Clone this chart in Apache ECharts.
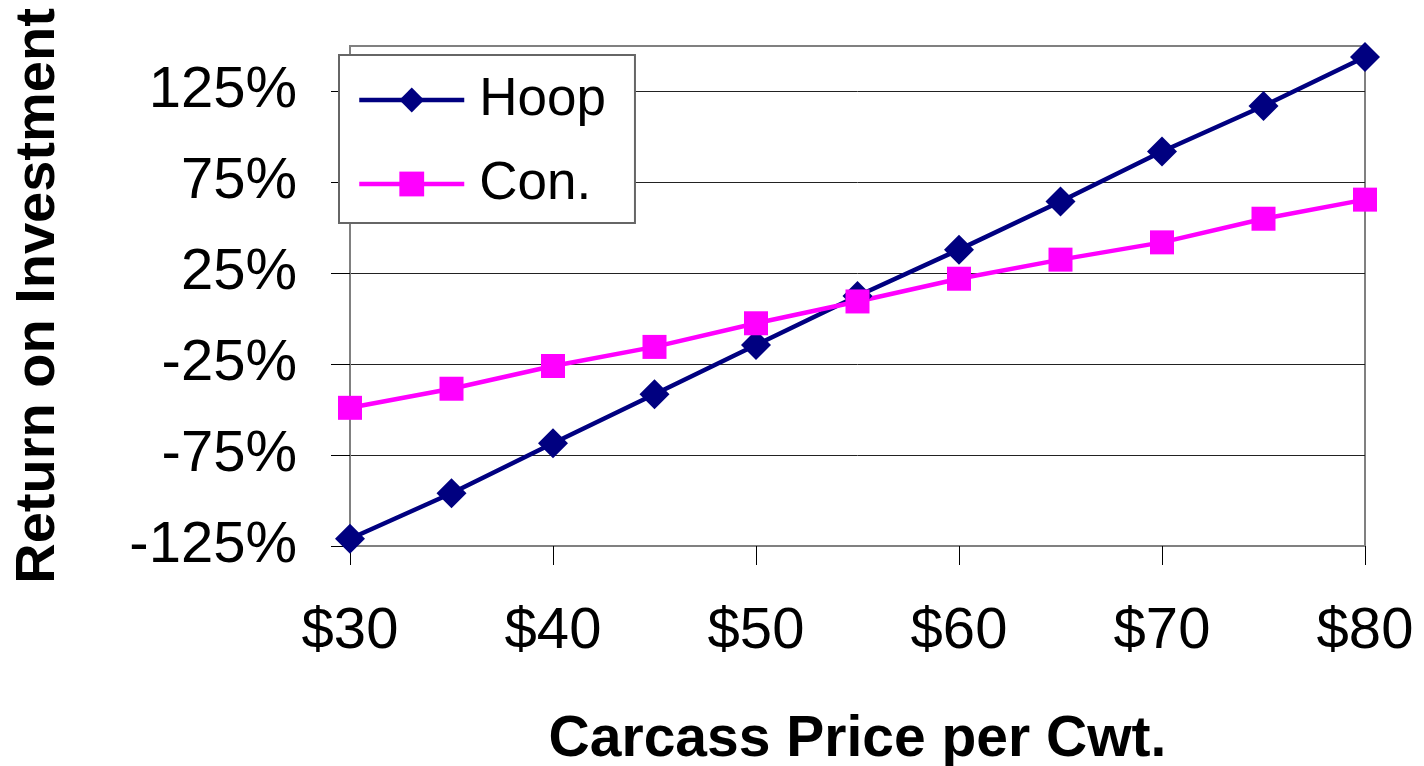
<!DOCTYPE html>
<html>
<head>
<meta charset="utf-8">
<script src="https://cdn.jsdelivr.net/npm/echarts@6/dist/echarts.min.js"></script>
<style>
html,body{margin:0;padding:0;background:#fff;}
#chart{width:1424px;height:766px;}
</style>
</head>
<body>
<div id="chart"></div>
<script>
var categories = ['$30','$35','$40','$45','$50','$55','$60','$65','$70','$75','$80'];
var hoop = [-121, -96, -68.5, -41.5, -14.5, 12.5, 38, 64.5, 92, 117, 144];
var con = [-49, -38.5, -26, -15.5, -2.5, 9.5, 22, 32.5, 42, 55, 65.5];
var yTicks = [-125, -75, -25, 25, 75, 125];

var FONT = '"Liberation Sans", Arial, sans-serif';
var chart = echarts.init(document.getElementById('chart'));
chart.setOption({
  animation: false,
  backgroundColor: '#fff',
  grid: {
    left: 350, right: 59, top: 46, bottom: 220,
    outerBoundsMode: 'none',
    containLabel: false,
    show: true, borderColor: '#808080', borderWidth: 2, backgroundColor: 'transparent'
  },
  legend: {
    orient: 'vertical',
    left: 339, top: 55,
    padding: [16, 29, 10, 18],
    backgroundColor: '#fff',
    borderColor: '#666',
    borderWidth: 2,
    borderRadius: 0,
    itemWidth: 105,
    itemHeight: 31,
    itemGap: 26,
    lineStyle: { width: 4.5 },
    textStyle: { fontFamily: FONT, fontSize: 53, lineHeight: 58, color: '#000', padding: [0, 0, 0, 10] },
    data: ['Hoop', 'Con.']
  },
  xAxis: {
    type: 'category',
    data: categories,
    boundaryGap: false,
    axisLine: { show: true, onZero: false, lineStyle: { color: '#808080', width: 2 } },
    axisTick: { show: true, interval: 1, length: 19, lineStyle: { color: '#000', width: 1 } },
    axisLabel: { interval: 1, fontFamily: FONT, fontSize: 58, color: '#000', margin: 57 },
    splitLine: { show: false },
    name: 'Carcass Price per Cwt.',
    nameLocation: 'middle',
    nameGap: 166,
    nameTextStyle: { fontFamily: FONT, fontSize: 57, fontWeight: 'bold', color: '#000' }
  },
  yAxis: {
    type: 'value',
    min: -125, max: 150,
    axisLine: { show: true, lineStyle: { color: '#808080', width: 2 } },
    axisTick: { show: true, length: 19, lineStyle: { color: '#000', width: 1 }, customValues: yTicks },
    axisLabel: { customValues: yTicks, formatter: function (v) { return v + '%'; }, fontFamily: FONT, fontSize: 58, color: '#000', margin: 53 },
    splitLine: { show: true, lineStyle: { color: '#222', width: 1 } },
    name: 'Return on Investment',
    nameLocation: 'middle',
    nameGap: 283,
    nameTextStyle: { fontFamily: FONT, fontSize: 56, fontWeight: 'bold', color: '#000' }
  },
  series: [
    {
      name: 'Hoop', type: 'line', data: hoop,
      symbol: 'diamond', symbolSize: 30,
      lineStyle: { color: '#000080', width: 4.5 },
      itemStyle: { color: '#000080' }
    },
    {
      name: 'Con.', type: 'line', data: con,
      symbol: 'rect', symbolSize: 24,
      lineStyle: { color: '#FF00FF', width: 4.5 },
      itemStyle: { color: '#FF00FF' }
    }
  ]
});
</script>
</body>
</html>
